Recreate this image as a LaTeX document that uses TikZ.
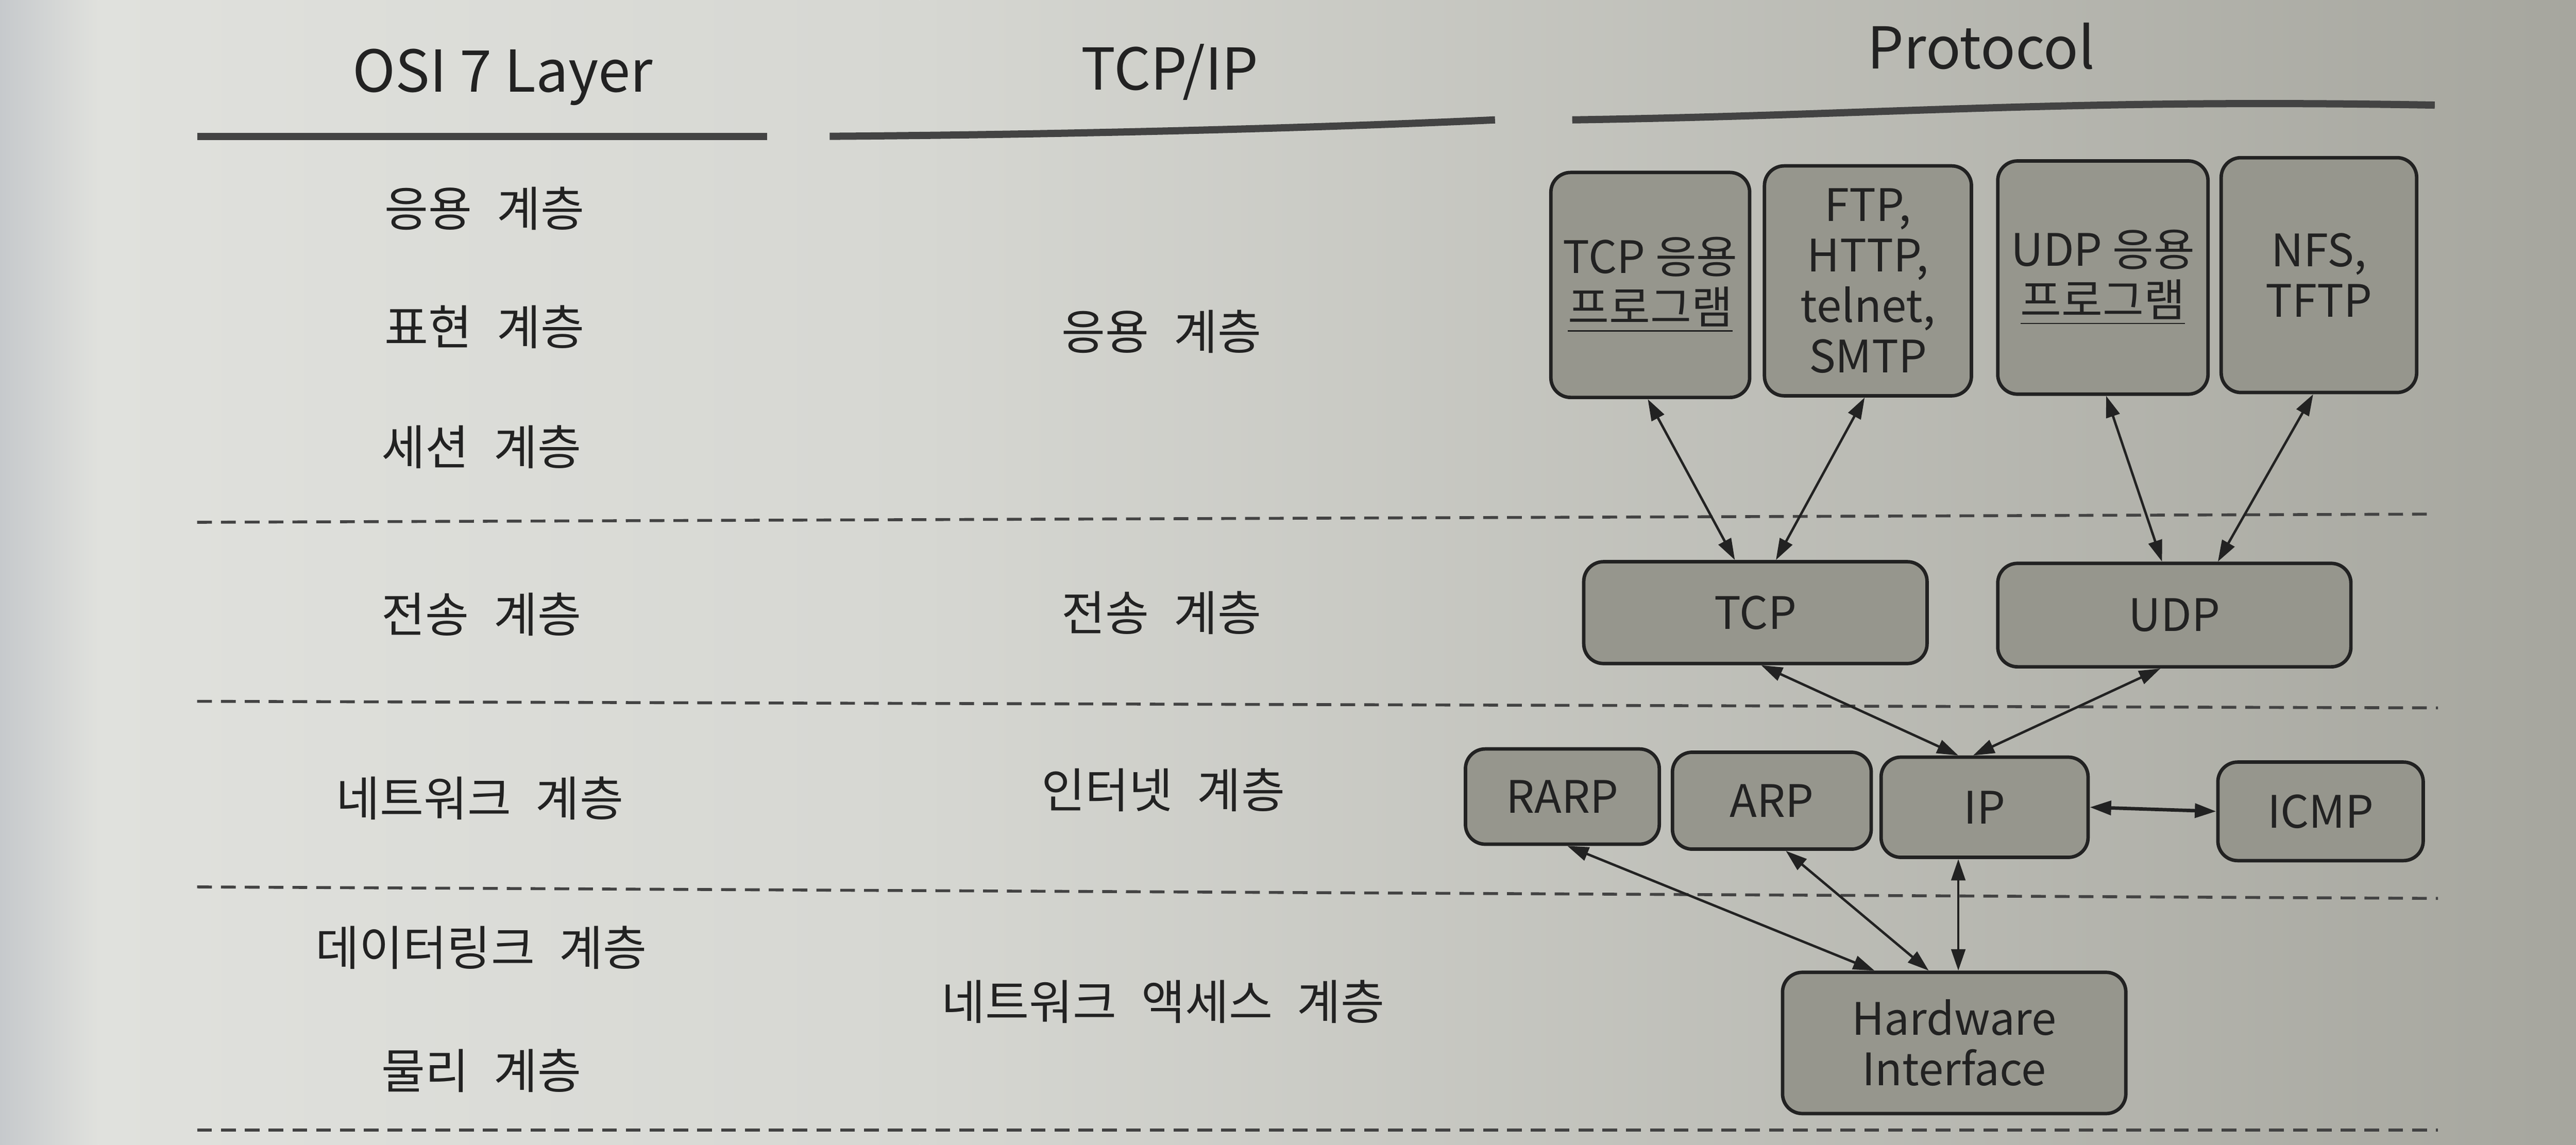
\documentclass[tikz,border=0pt]{standalone}
\usepackage{fontspec}
\setmainfont{Noto Sans CJK KR}
\newfontfamily\kr{Noto Sans CJK KR}[WordSpace=2.3]
\usetikzlibrary{arrows.meta}
\definecolor{ink}{HTML}{222222}
\definecolor{boxfill}{HTML}{96968D}
\definecolor{paperA}{HTML}{C6C9CC}
\definecolor{paperB}{HTML}{E0E1DD}
\definecolor{paperC}{HTML}{D6D7D2}
\definecolor{paperD}{HTML}{A6A69E}
\begin{document}
\begin{tikzpicture}[x=0.02cm,y=-0.02cm,
  box/.style={draw=ink, line width=1.2pt, rounded corners=0.24cm, fill=boxfill,
    align=center, inner sep=0pt, text=ink, font=\fontsize{15.5}{17.5}\selectfont},
  lay/.style={text=ink, font=\kr\fontsize{16.5}{20}\selectfont},
  head/.style={text=ink, font=\fontsize{20}{24}\selectfont},
  link/.style={draw=ink, line width=0.85pt,
    {Triangle[length=0.26cm,width=0.17cm]}-{Triangle[length=0.26cm,width=0.17cm]}},
  sep/.style={draw=ink!85, line width=1pt, dash pattern=on 0.18cm off 0.11cm},
  rulestyle/.style={draw=ink!85, line width=2.5pt}]
% background paper
\useasboundingbox (0,0) rectangle (1568,697.1);
\shade[left color=paperA, right color=paperB] (0,0) rectangle (60,697.1);
\shade[left color=paperB, right color=paperC] (60,0) rectangle (560,697.1);
\shade[left color=paperC, right color=paperD] (560,0) rectangle (1568,697.1);

% headers
\node[head] (hosi) at (306,47) {OSI 7 Layer};
\node[head] (htcp) at (712,44) {TCP/IP};
\node[head] (hpro) at (1206,28) {Protocol};
\draw[rulestyle] (120,83) -- (467,83);
\draw[rulestyle] (505,83) .. controls (650,82) and (800,78) .. (910,73);
\draw[rulestyle] (957,73) .. controls (1150,70) and (1250,60) .. (1482,64);

% separators
\draw[sep] (120,318) -- (1482,313);
\draw[sep] (120,427) -- (1484,431);
\draw[sep] (120,540) -- (1484,547);
\draw[sep] (120,688) -- (1484,688);

% OSI column
\node[lay] (o1) at (295,127) {응용 계층};
\node[lay] (o2) at (295,199) {표현 계층};
\node[lay] (o3) at (293,272) {세션 계층};
\node[lay] (o4) at (293,374) {전송 계층};
\node[lay] (o5) at (292,486) {네트워크 계층};
\node[lay] (o6) at (293,577) {데이터링크 계층};
\node[lay] (o7) at (293,652) {물리 계층};

% TCP/IP column
\node[lay] (t1) at (707,202) {응용 계층};
\node[lay] (t2) at (707,373) {전송 계층};
\node[lay] (t3) at (708,481) {인터넷 계층};
\node[lay] (t4) at (708,610) {네트워크 액세스 계층};

% protocol boxes
\node[box, minimum width=2.42cm, minimum height=2.74cm] (tcpapp) at (1004.5,173.5) {TCP 응용\\\underline{프로그램}};
\node[box, minimum width=2.52cm, minimum height=2.80cm] (ftp) at (1137,171) {FTP,\\HTTP,\\telnet,\\SMTP};
\node[box, minimum width=2.56cm, minimum height=2.84cm] (udpapp) at (1280,169) {UDP 응용\\\underline{프로그램}};
\node[box, minimum width=2.38cm, minimum height=2.86cm] (nfs) at (1411.5,167.5) {NFS,\\TFTP};
\node[box, minimum width=4.18cm, minimum height=1.24cm] (tcp) at (1068.5,373) {TCP};
\node[box, minimum width=4.30cm, minimum height=1.26cm] (udp) at (1323.5,374.5) {UDP};
\node[box, minimum width=2.36cm, minimum height=1.16cm] (rarp) at (951,485) {RARP};
\node[box, minimum width=2.42cm, minimum height=1.18cm] (arp) at (1078.5,487.5) {ARP};
\node[box, minimum width=2.52cm, minimum height=1.22cm] (ip) at (1208,491.5) {IP};
\node[box, minimum width=2.50cm, minimum height=1.20cm] (icmp) at (1412.5,494) {ICMP};
\node[box, minimum width=4.18cm, minimum height=1.72cm] (hw) at (1189.5,635) {Hardware\\Interface};

% connectors
\draw[link] ([xshift=-0.03cm]tcpapp.south) -- ([xshift=-0.25cm]tcp.north);
\draw[link] ([xshift=-0.04cm]ftp.south) -- ([xshift=0.25cm]tcp.north);
\draw[link] ([xshift=0.04cm]udpapp.south) -- ([xshift=-0.15cm]udp.north);
\draw[link] ([xshift=-0.07cm]nfs.south) -- ([xshift=0.53cm]udp.north);
\draw[link] ([xshift=0.07cm]tcp.south) -- ([xshift=-0.32cm]ip.north);
\draw[link] ([xshift=-0.17cm]udp.south) -- ([xshift=-0.14cm]ip.north);
\draw[link, line width=1.2pt] (ip.east) -- (icmp.west);
\draw[link] ([xshift=0.06cm]rarp.south) -- ([xshift=-0.97cm]hw.north);
\draw[link] ([xshift=0.17cm]arp.south) -- ([xshift=-0.31cm]hw.north);
\draw[link] ([xshift=-0.32cm]ip.south) -- ([xshift=-0.32cm]ip.south |- hw.north);
\end{tikzpicture}
\end{document}
